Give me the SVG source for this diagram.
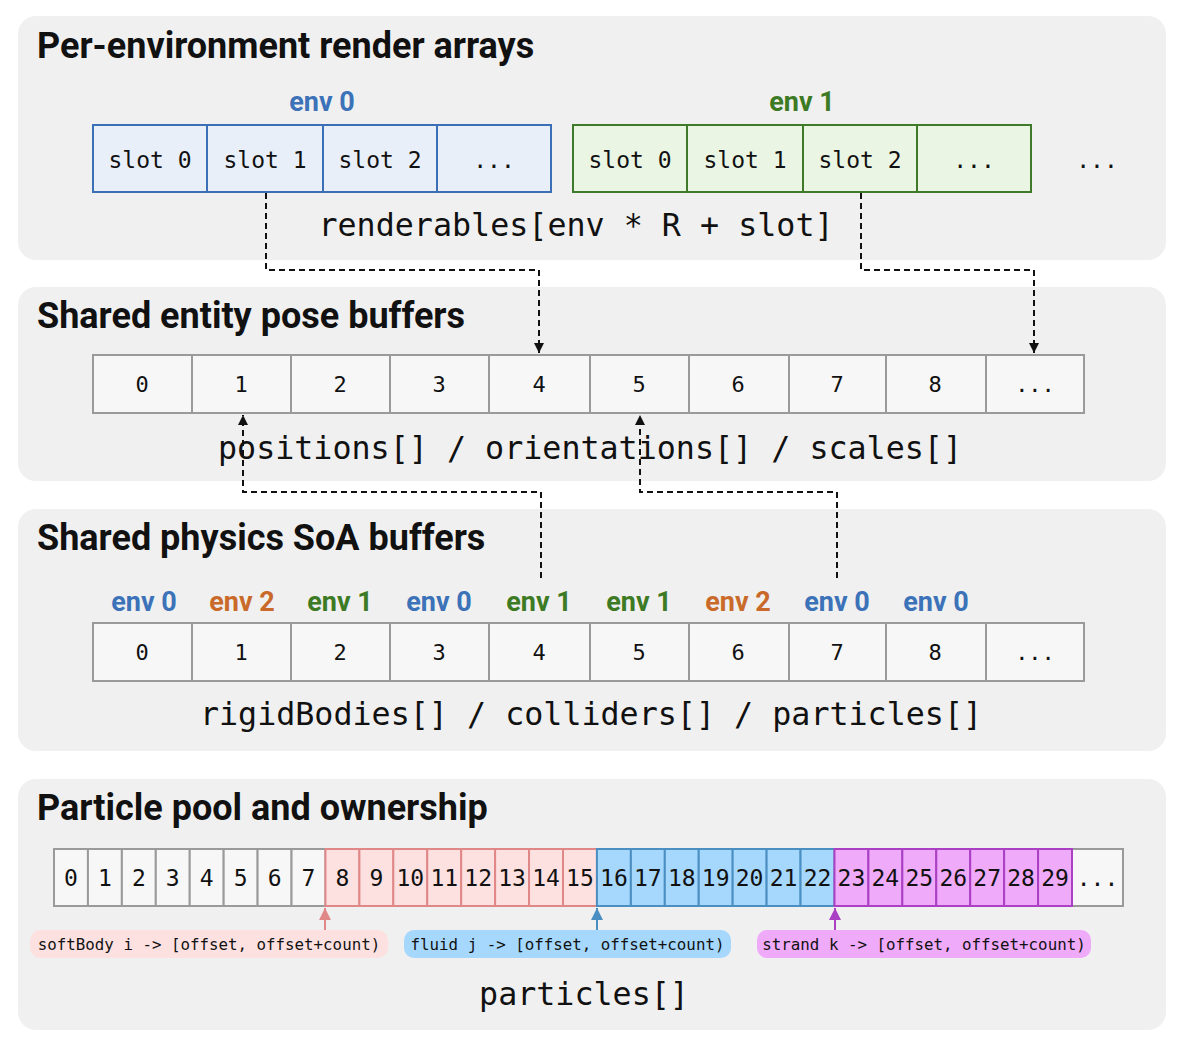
<svg xmlns="http://www.w3.org/2000/svg" width="1184" height="1046" viewBox="0 0 1184 1046">
<style>
.panel{fill:#f0f0f0;}
.title{font-family:Roboto,"Liberation Sans",sans-serif;font-weight:bold;font-size:36px;fill:#111;}
.env{font-family:Roboto,"Liberation Sans",sans-serif;font-weight:bold;font-size:27px;text-anchor:middle;}
.e0{fill:#3b72b8;}
.e1{fill:#3d7a24;}
.e2{fill:#c96a2a;}
.mono{font-family:"DejaVu Sans Mono","Liberation Mono",monospace;fill:#111;text-anchor:middle;}
.big{font-size:31.7px;}
.cell{font-size:22px;}
.pcell{font-size:23px;}
.pill{font-size:15.8px;}
.b0{fill:#e8eff9;stroke:#3b6fb6;stroke-width:2;}
.b1{fill:#eaf5e4;stroke:#3f7a2a;stroke-width:2;}
.g{fill:#f7f7f7;stroke:#9a9a9a;stroke-width:2;}
.pk{fill:#fde1e1;stroke:#e08888;stroke-width:2;}
.bl{fill:#a6d8fd;stroke:#4b8fc2;stroke-width:2;}
.pu{fill:#efaaf9;stroke:#ab40c4;stroke-width:2;}
.dash{fill:none;stroke:#111;stroke-width:2;stroke-dasharray:6 4;}
</style>
<defs>
<marker id="ah" viewBox="0 0 10 10" refX="10" refY="5" markerWidth="5" markerHeight="5" orient="auto" markerUnits="strokeWidth"><path d="M0,0 L10,5 L0,10 z" fill="#111"/></marker>
<marker id="ahpk" viewBox="0 0 10 10" refX="10" refY="5" markerWidth="6" markerHeight="6" orient="auto" markerUnits="strokeWidth"><path d="M0,0 L10,5 L0,10 z" fill="#e08888"/></marker>
<marker id="ahbl" viewBox="0 0 10 10" refX="10" refY="5" markerWidth="6" markerHeight="6" orient="auto" markerUnits="strokeWidth"><path d="M0,0 L10,5 L0,10 z" fill="#4b8fc2"/></marker>
<marker id="ahpu" viewBox="0 0 10 10" refX="10" refY="5" markerWidth="6" markerHeight="6" orient="auto" markerUnits="strokeWidth"><path d="M0,0 L10,5 L0,10 z" fill="#ab40c4"/></marker>
</defs>

<rect class="panel" x="18" y="16" width="1148" height="244" rx="18"/>
<rect class="panel" x="18" y="287" width="1148" height="194" rx="18"/>
<rect class="panel" x="18" y="509" width="1148" height="242" rx="18"/>
<rect class="panel" x="18" y="779" width="1148" height="251" rx="18"/>

<g id="render-arrays">
<text class="title" x="37" y="58">Per-environment render arrays</text>
<text class="env e0" x="322" y="111">env 0</text>
<text class="env e1" x="802" y="111">env 1</text>
<rect class="b0" x="93" y="125" width="114" height="67"/>
<rect class="b0" x="207" y="125" width="116" height="67"/>
<rect class="b0" x="323" y="125" width="114" height="67"/>
<rect class="b0" x="437" y="125" width="114" height="67"/>
<rect class="b1" x="573" y="125" width="114" height="67"/>
<rect class="b1" x="687" y="125" width="116" height="67"/>
<rect class="b1" x="803" y="125" width="114" height="67"/>
<rect class="b1" x="917" y="125" width="114" height="67"/>
<g class="mono cell" style="font-size:23px">
<text x="150" y="168">slot 0</text>
<text x="265" y="168">slot 1</text>
<text x="380" y="168">slot 2</text>
<text x="494" y="168">...</text>
<text x="630" y="168">slot 0</text>
<text x="745" y="168">slot 1</text>
<text x="860" y="168">slot 2</text>
<text x="974" y="168">...</text>
<text x="1097" y="168">...</text>
</g>
<text class="mono big" x="576" y="236">renderables[env * R + slot]</text>
</g>

<g id="pose-buffers">
<text class="title" x="37" y="328">Shared entity pose buffers</text>
<rect class="g" x="93" y="355" width="99" height="58"/>
<rect class="g" x="192" y="355" width="99" height="58"/>
<rect class="g" x="291" y="355" width="99" height="58"/>
<rect class="g" x="390" y="355" width="99" height="58"/>
<rect class="g" x="489" y="355" width="101" height="58"/>
<rect class="g" x="590" y="355" width="99" height="58"/>
<rect class="g" x="689" y="355" width="100" height="58"/>
<rect class="g" x="789" y="355" width="97" height="58"/>
<rect class="g" x="886" y="355" width="100" height="58"/>
<rect class="g" x="986" y="355" width="98" height="58"/>
<g class="mono cell">
<text x="142" y="392">0</text>
<text x="241" y="392">1</text>
<text x="340" y="392">2</text>
<text x="439" y="392">3</text>
<text x="539" y="392">4</text>
<text x="639" y="392">5</text>
<text x="738" y="392">6</text>
<text x="837" y="392">7</text>
<text x="935" y="392">8</text>
<text x="1035" y="392">...</text>
</g>
<text class="mono big" x="590" y="459">positions[] / orientations[] / scales[]</text>
</g>

<g id="physics-buffers">
<text class="title" x="37" y="550">Shared physics SoA buffers</text>
<text class="env e0" x="144" y="611">env 0</text>
<text class="env e2" x="242" y="611">env 2</text>
<text class="env e1" x="340" y="611">env 1</text>
<text class="env e0" x="439" y="611">env 0</text>
<text class="env e1" x="539" y="611">env 1</text>
<text class="env e1" x="639" y="611">env 1</text>
<text class="env e2" x="738" y="611">env 2</text>
<text class="env e0" x="837" y="611">env 0</text>
<text class="env e0" x="936" y="611">env 0</text>
<rect class="g" x="93" y="623" width="99" height="58"/>
<rect class="g" x="192" y="623" width="99" height="58"/>
<rect class="g" x="291" y="623" width="99" height="58"/>
<rect class="g" x="390" y="623" width="99" height="58"/>
<rect class="g" x="489" y="623" width="101" height="58"/>
<rect class="g" x="590" y="623" width="99" height="58"/>
<rect class="g" x="689" y="623" width="100" height="58"/>
<rect class="g" x="789" y="623" width="97" height="58"/>
<rect class="g" x="886" y="623" width="100" height="58"/>
<rect class="g" x="986" y="623" width="98" height="58"/>
<g class="mono cell">
<text x="142" y="660">0</text>
<text x="241" y="660">1</text>
<text x="340" y="660">2</text>
<text x="439" y="660">3</text>
<text x="539" y="660">4</text>
<text x="639" y="660">5</text>
<text x="738" y="660">6</text>
<text x="837" y="660">7</text>
<text x="935" y="660">8</text>
<text x="1035" y="660">...</text>
</g>
<text class="mono big" x="591" y="725">rigidBodies[] / colliders[] / particles[]</text>
</g>

<g id="particle-pool">
<text class="title" x="37" y="820">Particle pool and ownership</text>
<rect class="g" x="1072" y="849" width="51" height="57"/>
<rect class="g" x="54" y="849" width="33.93" height="57"/>
<rect class="g" x="87.93" y="849" width="33.93" height="57"/>
<rect class="g" x="121.87" y="849" width="33.93" height="57"/>
<rect class="g" x="155.8" y="849" width="33.93" height="57"/>
<rect class="g" x="189.73" y="849" width="33.93" height="57"/>
<rect class="g" x="223.67" y="849" width="33.93" height="57"/>
<rect class="g" x="257.6" y="849" width="33.93" height="57"/>
<rect class="g" x="291.53" y="849" width="33.93" height="57"/>
<rect class="pk" x="325.47" y="849" width="33.93" height="57"/>
<rect class="pk" x="359.4" y="849" width="33.93" height="57"/>
<rect class="pk" x="393.33" y="849" width="33.93" height="57"/>
<rect class="pk" x="427.27" y="849" width="33.93" height="57"/>
<rect class="pk" x="461.2" y="849" width="33.93" height="57"/>
<rect class="pk" x="495.13" y="849" width="33.93" height="57"/>
<rect class="pk" x="529.07" y="849" width="33.93" height="57"/>
<rect class="pk" x="563" y="849" width="33.93" height="57"/>
<rect class="bl" x="596.93" y="849" width="33.93" height="57"/>
<rect class="bl" x="630.87" y="849" width="33.93" height="57"/>
<rect class="bl" x="664.8" y="849" width="33.93" height="57"/>
<rect class="bl" x="698.73" y="849" width="33.93" height="57"/>
<rect class="bl" x="732.67" y="849" width="33.93" height="57"/>
<rect class="bl" x="766.6" y="849" width="33.93" height="57"/>
<rect class="bl" x="800.53" y="849" width="33.93" height="57"/>
<rect class="pu" x="834.47" y="849" width="33.93" height="57"/>
<rect class="pu" x="868.4" y="849" width="33.93" height="57"/>
<rect class="pu" x="902.33" y="849" width="33.93" height="57"/>
<rect class="pu" x="936.27" y="849" width="33.93" height="57"/>
<rect class="pu" x="970.2" y="849" width="33.93" height="57"/>
<rect class="pu" x="1004.13" y="849" width="33.93" height="57"/>
<rect class="pu" x="1038.07" y="849" width="33.93" height="57"/>
<g class="mono pcell">
<text x="70.97" y="886">0</text>
<text x="104.9" y="886">1</text>
<text x="138.83" y="886">2</text>
<text x="172.77" y="886">3</text>
<text x="206.7" y="886">4</text>
<text x="240.63" y="886">5</text>
<text x="274.57" y="886">6</text>
<text x="308.5" y="886">7</text>
<text x="342.43" y="886">8</text>
<text x="376.37" y="886">9</text>
<text x="410.3" y="886">10</text>
<text x="444.23" y="886">11</text>
<text x="478.17" y="886">12</text>
<text x="512.1" y="886">13</text>
<text x="546.03" y="886">14</text>
<text x="579.97" y="886">15</text>
<text x="613.9" y="886">16</text>
<text x="647.83" y="886">17</text>
<text x="681.77" y="886">18</text>
<text x="715.7" y="886">19</text>
<text x="749.63" y="886">20</text>
<text x="783.57" y="886">21</text>
<text x="817.5" y="886">22</text>
<text x="851.43" y="886">23</text>
<text x="885.37" y="886">24</text>
<text x="919.3" y="886">25</text>
<text x="953.23" y="886">26</text>
<text x="987.17" y="886">27</text>
<text x="1021.1" y="886">28</text>
<text x="1055.03" y="886">29</text>
<text x="1097.5" y="886">...</text>
</g>
<rect x="30" y="930" width="358" height="28" rx="10" fill="#fde1e1"/>
<rect x="404" y="930" width="327" height="28" rx="10" fill="#a6d8fd"/>
<rect x="757" y="930" width="334" height="28" rx="10" fill="#efaaf9"/>
<g class="mono pill">
<text x="209" y="950">softBody i -&gt; [offset, offset+count)</text>
<text x="567.5" y="950">fluid j -&gt; [offset, offset+count)</text>
<text x="924" y="950">strand k -&gt; [offset, offset+count)</text>
</g>
<text class="mono big" x="584" y="1005">particles[]</text>
</g>

<g id="connectors">
<path class="dash" d="M266,193 V270 H539 V353" marker-end="url(#ah)"/>
<path class="dash" d="M861,193 V270 H1034 V353" marker-end="url(#ah)"/>
<path class="dash" d="M541,578 V492 H243 V415" marker-end="url(#ah)"/>
<path class="dash" d="M837,578 V492 H640 V415" marker-end="url(#ah)"/>
<line x1="325" y1="930" x2="325" y2="908" stroke="#e08888" stroke-width="2" marker-end="url(#ahpk)"/>
<line x1="597" y1="930" x2="597" y2="908" stroke="#4b8fc2" stroke-width="2" marker-end="url(#ahbl)"/>
<line x1="835" y1="930" x2="835" y2="908" stroke="#ab40c4" stroke-width="2" marker-end="url(#ahpu)"/>
</g>
</svg>
